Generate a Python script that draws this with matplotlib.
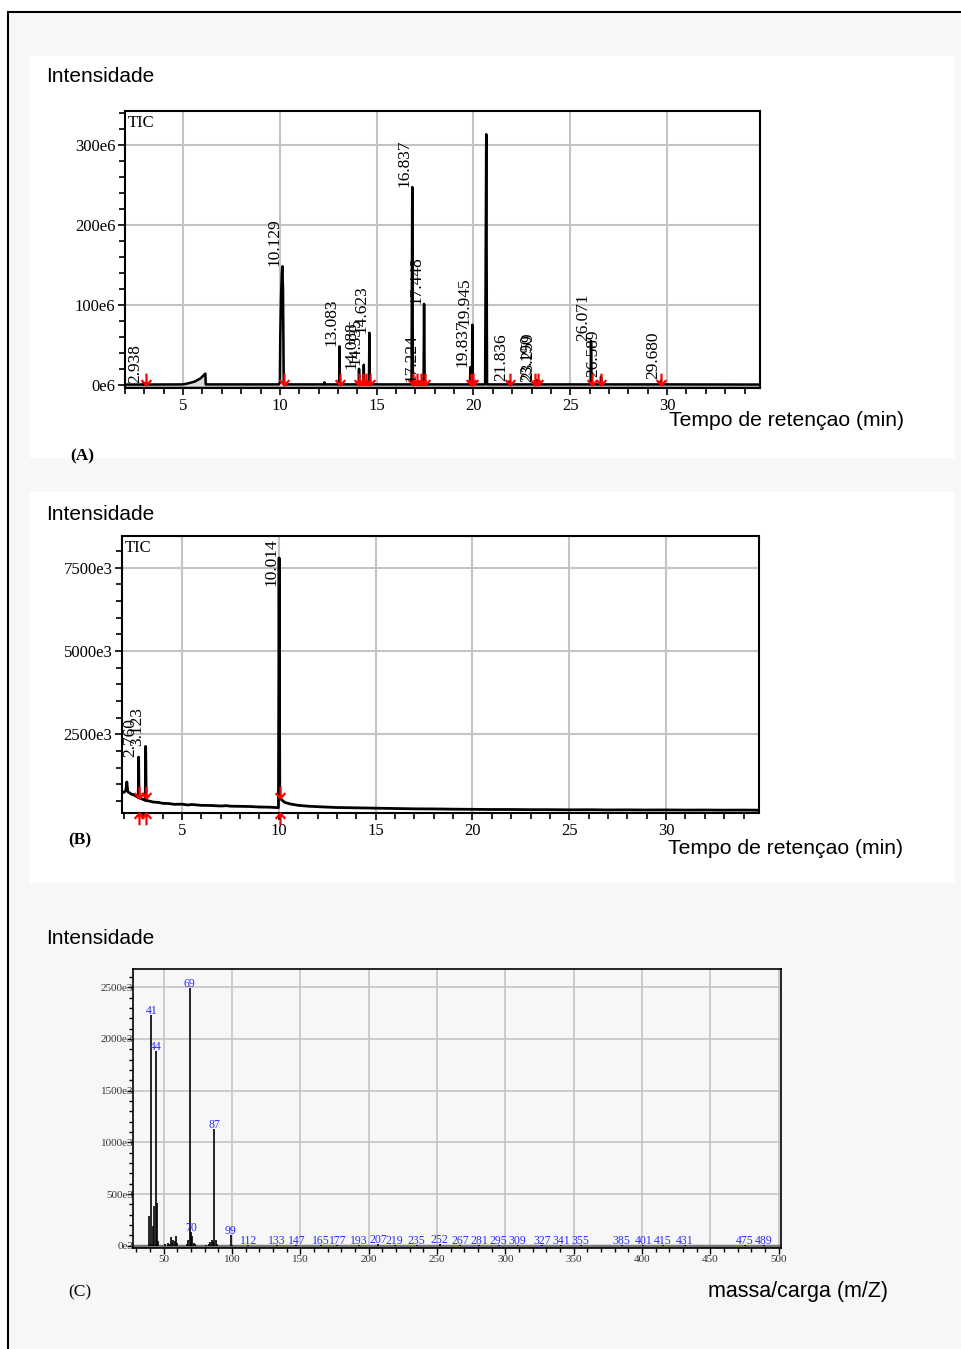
import matplotlib
matplotlib.use("Agg")
import matplotlib.pyplot as plt
from matplotlib.path import Path
from matplotlib.patches import Rectangle
from matplotlib.ticker import MultipleLocator

W, H = 962, 1349

# ---- (A) TIC chromatogram, intensity in 1e6 ----
a_time = [2.0, 2.9, 2.938, 2.97, 5.0, 5.3, 5.6, 5.9, 6.15, 6.17, 9.95, 10.0, 10.02, 10.06, 10.1, 10.129,
          10.16, 10.2, 12.28, 12.3, 12.33, 13.06, 13.083, 13.1, 14.07, 14.088, 14.11, 14.32, 14.335, 14.35,
          14.6, 14.623, 14.65, 16.8, 16.837, 16.87, 17.2, 17.224, 17.25, 17.42, 17.448, 17.48, 19.82, 19.837,
          19.86, 19.92, 19.945, 19.97, 20.6, 20.66, 20.7, 21.8, 21.836, 21.86, 23.17, 23.19, 23.21, 23.24,
          23.259, 23.28, 26.05, 26.071, 26.1, 26.57, 26.589, 26.61, 29.66, 29.68, 29.7, 34.8]
a_int = [0.3, 0.3, 2, 0.3, 0.5, 2, 4, 8, 14, 0.5, 0.5, 3, 60, 110, 140, 148,
         120, 0.5, 0.5, 3, 0.5, 0.5, 48, 0.5, 0.5, 20, 0.5, 0.5, 25, 0.5,
         0.5, 65, 0.5, 0.5, 247, 0.5, 0.5, 4, 0.5, 0.5, 101, 0.5, 0.5, 22,
         0.5, 0.5, 75, 0.5, 0.5, 313, 0.5, 0.5, 4, 0.5, 0.5, 4, 0.5, 0.5,
         6, 0.5, 0.5, 55, 0.5, 0.5, 10, 0.5, 0.5, 5, 0.5, 0.3]
a_peaks = [2.938, 10.129, 13.083, 14.088, 14.335, 14.623, 16.837, 17.224, 17.448, 19.837, 19.945,
           21.836, 23.190, 23.259, 26.071, 26.589, 29.680]
a_peak_h = [2, 148, 48, 20, 25, 65, 247, 4, 101, 22, 75, 5, 4, 6, 55, 10, 7]
a_arrows = [3.06, 10.22, 13.1, 14.1, 14.3, 14.45, 14.65, 16.9, 17.1, 17.3, 17.52, 19.85, 19.97,
            21.9, 23.2, 23.32, 26.1, 26.6, 29.7]

# ---- (B) TIC chromatogram, intensity in 1e3 ----
b_time = [1.9, 2.0, 2.1, 2.15, 2.2, 2.3, 2.4, 2.5, 2.6, 2.7, 2.74, 2.76, 2.78, 2.9, 3.0, 3.1, 3.123, 3.15,
          3.3, 3.5, 3.8, 4.0, 4.3, 4.6, 5.0, 5.3, 5.5, 6.0, 6.5, 7.0, 7.3, 7.5, 8.0, 8.5, 9.0, 9.5, 9.98,
          10.014, 10.05, 10.1, 10.3, 10.6, 11.0, 11.5, 12.0, 13.0, 14.0, 15.0, 16.0, 17.0, 18.0, 19.0,
          20.0, 21.0, 22.0, 23.0, 24.0, 25.0, 26.0, 27.0, 28.0, 29.0, 30.0, 31.0, 32.0, 33.0, 34.0, 34.8]
b_int = [770, 760, 820, 1070, 780, 740, 700, 690, 650, 630, 600, 1820, 600, 570, 545, 520, 2140, 520,
         500, 470, 455, 430, 425, 400, 405, 380, 395, 370, 365, 350, 360, 345, 340, 335, 320, 315, 300,
         7800, 700, 560, 460, 410, 370, 345, 330, 305, 295, 285, 275, 265, 262, 255,
         250, 245, 245, 240, 240, 235, 238, 232, 234, 230, 232, 228, 230, 226, 228, 225]
b_peaks = [2.760, 3.123, 10.014]
b_peak_h = [1820, 2140, 7800]
b_arrows = [2.76, 3.12, 10.05]

# ---- (C) mass spectrum, intensity in 1e3 ----
c_mz = [39, 40, 41, 42, 43, 44, 45, 46, 51, 53, 54, 55, 56, 57, 58, 59, 60, 67, 68, 69, 70, 71, 72, 73,
        81, 83, 84, 85, 86, 87, 88, 89, 99, 100, 112, 133, 147, 165, 177, 193, 207, 219, 235, 252, 267,
        281, 295, 309, 327, 341, 355, 385, 401, 415, 431, 475, 489]
c_int = [290, 20, 2230, 190, 380, 1880, 410, 50, 15, 30, 20, 80, 40, 60, 50, 90, 30, 20, 60, 2490, 130,
         90, 30, 15, 10, 20, 40, 60, 40, 1126, 60, 20, 104, 10, 8, 3, 3, 3, 3, 3, 15, 3, 3, 12, 3,
         4, 4, 4, 3, 4, 4, 3, 3, 3, 3, 3, 3]
c_labels = [41, 44, 69, 70, 87, 99, 112, 133, 147, 165, 177, 193, 207, 219, 235, 252, 267, 281, 295,
            309, 327, 341, 355, 385, 401, 415, 431, 475, 489]

SERIF = "Liberation Serif"
SANS = "Liberation Sans"
GRID = "#c4c4c4"

down = Path([(0, 0), (0, 2.2), (-0.9, 1.0), (0, 0), (0.9, 1.0)],
            [Path.MOVETO, Path.LINETO, Path.MOVETO, Path.LINETO, Path.LINETO])
up = Path([(0, 0), (0, -2.2), (-0.9, -1.0), (0, 0), (0.9, -1.0)],
          [Path.MOVETO, Path.LINETO, Path.MOVETO, Path.LINETO, Path.LINETO])


def box(l, t, r, b):
    return [l / W, 1 - b / H, (r - l) / W, (b - t) / H]


def ftext(x, y, s, **kw):
    fig.text(x / W, 1 - y / H, s, va="center", **kw)


def style(ax, lw=1.5, size=12):
    for sp in ax.spines.values():
        sp.set_linewidth(lw)
        sp.set_color("black")
    ax.tick_params(which="major", direction="out", length=5, width=1.2, labelsize=size, pad=2)
    ax.tick_params(which="minor", direction="out", length=4, width=1.2)
    for lab in ax.get_xticklabels() + ax.get_yticklabels():
        lab.set_fontfamily(SERIF)
    ax.grid(True, which="major", color=GRID, lw=1.5)
    ax.set_axisbelow(True)


fig = plt.figure(figsize=(W / 100, H / 100), dpi=100)
fig.patch.set_facecolor("white")
fig.patches.append(Rectangle((8 / W, -0.01), 1.0, 1 - 12 / H + 0.01, transform=fig.transFigure,
                             facecolor="#f7f7f7", edgecolor="black", lw=1.5, zorder=-2))
for t, b in [(56, 458), (492, 883)]:
    fig.patches.append(Rectangle((30 / W, 1 - b / H), 925 / W, (b - t) / H, transform=fig.transFigure,
                                 facecolor="white", edgecolor="none", zorder=-1))

# ---------- panel A ----------
ax = fig.add_axes(box(125, 111, 760, 388))
ax.set_xlim(2.0, 34.8)
ax.set_ylim(-4, 342)
ax.axhspan(-4, 0, color="#a8a8a8", zorder=2)
ax.fill_between(a_time, 0, a_int, color="#dddddd", zorder=2)
ax.plot(a_time, a_int, color="black", lw=1.8, zorder=3)
ax.plot(a_arrows, [0] * len(a_arrows), ls="none", marker=down, ms=17, mfc="none", mec="red",
        mew=1.6, zorder=5, clip_on=False)
for t, h in zip(a_peaks, a_peak_h):
    ax.text(t, h, f"{t:.3f}", rotation=90, ha="right", va="bottom", family=SERIF, fontsize=12.5, zorder=6)
ax.set_xticks([5, 10, 15, 20, 25, 30])
ax.set_yticks([0, 100, 200, 300])
ax.set_yticklabels([f"{v}e6" for v in [0, 100, 200, 300]])
ax.xaxis.set_minor_locator(MultipleLocator(1))
ax.yaxis.set_minor_locator(MultipleLocator(20))
style(ax)
ax.text(0.004, 0.985, "TIC", transform=ax.transAxes, ha="left", va="top", family=SERIF, fontsize=12)

ftext(46, 77, "Intensidade", family=SANS, fontsize=15)
ftext(669, 421, "Tempo de retençao (min)", family=SANS, fontsize=15.2)
ftext(70, 456, "(A)", family=SERIF, fontsize=12.5, fontweight="bold")

# ---------- panel B ----------
ax = fig.add_axes(box(122, 536, 759, 813))
ax.set_xlim(1.9, 34.8)
ax.set_ylim(140, 8456)
ax.plot(b_time, b_int, color="black", lw=2.0, zorder=3)
ax.plot(b_arrows, [600] * len(b_arrows), ls="none", marker=down, ms=17, mfc="none", mec="red",
        mew=1.6, zorder=5)
ax.plot(b_arrows, [140] * len(b_arrows), ls="none", marker=up, ms=17, mfc="none", mec="red",
        mew=1.6, zorder=5, clip_on=False)
for t, h in zip(b_peaks, b_peak_h):
    if h > 7000:
        ax.text(t, 8400, f"{t:.3f}", rotation=90, ha="right", va="top", family=SERIF, fontsize=12.5, zorder=6)
    else:
        ax.text(t, h, f"{t:.3f}", rotation=90, ha="right", va="bottom", family=SERIF, fontsize=12.5, zorder=6)
ax.set_xticks([5, 10, 15, 20, 25, 30])
ax.set_yticks([2500, 5000, 7500])
ax.set_yticklabels([f"{v}e3" for v in [2500, 5000, 7500]])
ax.xaxis.set_minor_locator(MultipleLocator(1))
ax.yaxis.set_minor_locator(MultipleLocator(500))
style(ax)
ax.text(0.004, 0.985, "TIC", transform=ax.transAxes, ha="left", va="top", family=SERIF, fontsize=12)

ftext(46, 514, "Intensidade", family=SANS, fontsize=15)
ftext(668, 848, "Tempo de retençao (min)", family=SANS, fontsize=15.2)
ftext(68, 840, "(B)", family=SERIF, fontsize=12.5, fontweight="bold")

# ---------- panel C ----------
ax = fig.add_axes(box(133, 969, 781, 1248))
ax.set_facecolor("#f7f7f7")
ax.set_xlim(27.5, 501.6)
ax.set_ylim(-22, 2676)
ax.vlines(c_mz, 0, c_int, color="black", lw=1.2, zorder=3)
ax.axhline(0, color="#777777", lw=2.5, zorder=2)
lookup = dict(zip(c_mz, c_int))
for m in c_labels:
    ax.annotate(str(m), (m, lookup[m]), xytext=(0, 3), textcoords="offset points", ha="center",
                va="center", family=SERIF, fontsize=8.5, color="#2a2aff", zorder=6)
ax.set_xticks(range(50, 501, 50))
ax.set_yticks(range(0, 2501, 500))
ax.set_yticklabels([f"{v}e3" for v in range(0, 2501, 500)])
ax.xaxis.set_minor_locator(MultipleLocator(10))
ax.yaxis.set_minor_locator(MultipleLocator(100))
style(ax, lw=1.2, size=8)
ax.grid(True, which="major", color=GRID, lw=1.2)
ax.tick_params(which="major", length=4, width=1)
ax.tick_params(which="minor", length=3, width=1)
ax.tick_params(axis="y", pad=-4, labelcolor="#333333")
ax.tick_params(axis="x", pad=1, labelcolor="#333333")

ftext(46, 938, "Intensidade", family=SANS, fontsize=15)
ftext(708, 1291, "massa/carga (m/Z)", family=SANS, fontsize=15.5)
ftext(68, 1292, "(C)", family=SERIF, fontsize=12.5)

fig.savefig("out.png", dpi=100)
